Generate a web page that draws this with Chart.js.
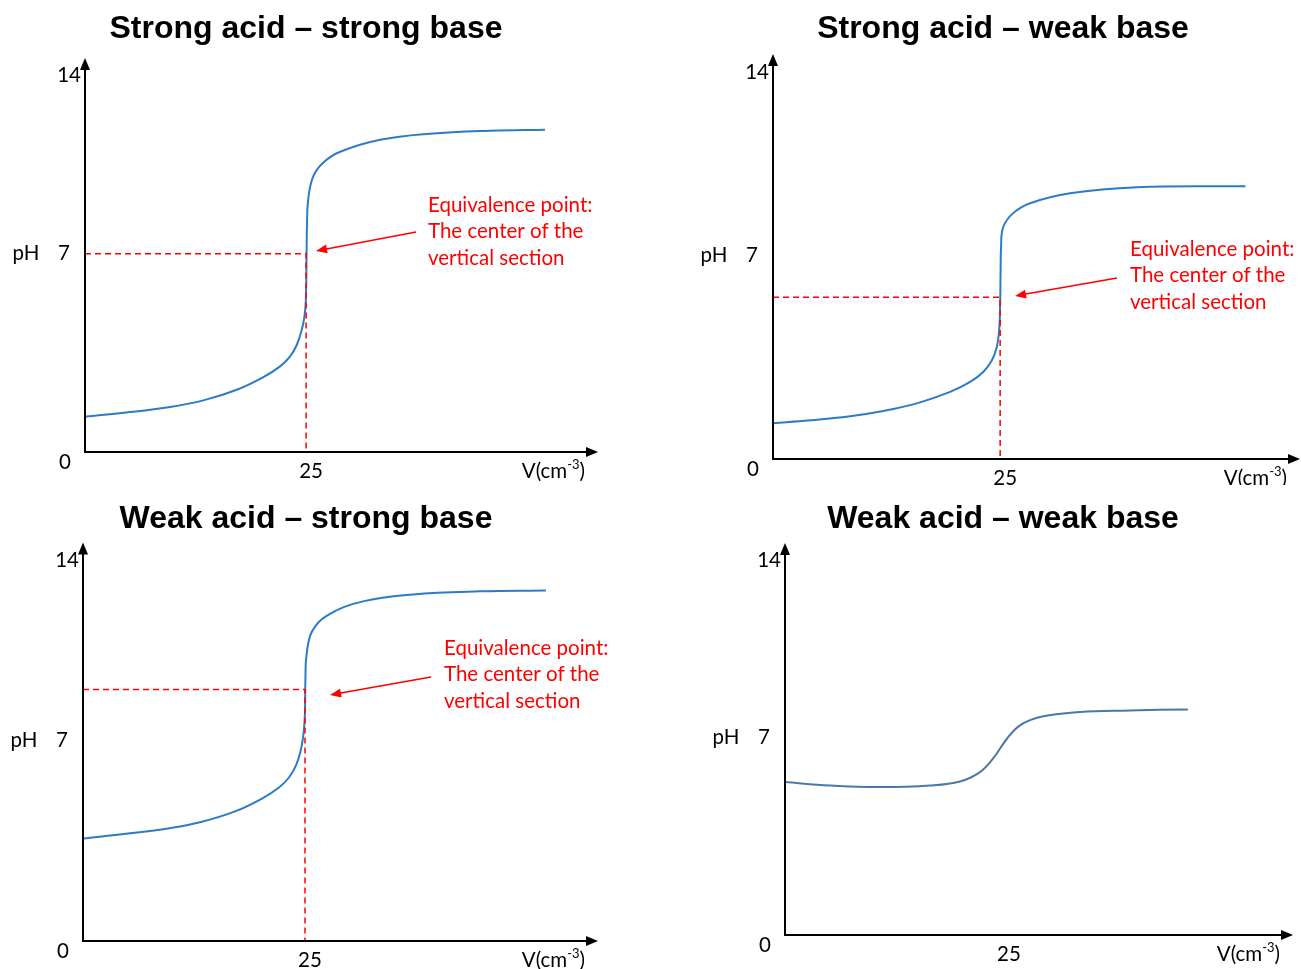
<!DOCTYPE html>
<html>
<head>
<meta charset="utf-8">
<script src="https://cdn.jsdelivr.net/npm/chart.js@4/dist/chart.umd.min.js"></script>
<style>
  html, body { margin: 0; padding: 0; background: #fff; }
  #wrap { position: relative; width: 1301px; height: 969px; overflow: hidden; }
  canvas { position: absolute; }
</style>
</head>
<body>
<div id="wrap">
  <canvas id="c1" width="650" height="485" style="left:0;top:0"></canvas>
  <canvas id="c2" width="651" height="485" style="left:650px;top:0"></canvas>
  <canvas id="c3" width="650" height="484" style="left:0;top:485px"></canvas>
  <canvas id="c4" width="651" height="484" style="left:650px;top:485px"></canvas>
</div>
<script>
// Chart text
const titles = ['Strong acid – strong base', 'Strong acid – weak base', 'Weak acid – strong base', 'Weak acid – weak base'];
const yTickLabels = ['0', '7', '14'];
const xTickLabels = ['25'];
const yAxisLabel = 'pH';
const xAxisLabel = ['V(cm', '-3', ')'];
const noteLines = ['Equivalence point:', 'The center of the', 'vertical section'];

// Titration curves: volume of titrant (cm3) and pH
const volSaSb = [0, 5.1, 9.62, 13.38, 17.16, 20.17, 22.06, 23.19, 23.95, 24.51, 24.81, 24.97, 25.05, 25.1, 25.23, 25.79, 26.92, 28.85, 33.37, 39.0, 45.8, 52.0];
const phSaSb  = [0.59, 0.77, 0.97, 1.23, 1.65, 2.15, 2.57, 2.96, 3.42, 4.01, 4.53, 5.19, 7.0, 8.14, 9.12, 10.03, 10.58, 11.01, 11.48, 11.72, 11.84, 11.88];

const volSaWb = [0, 4.07, 8.48, 12.15, 15.83, 19.49, 21.7, 23.16, 24.09, 24.63, 24.89, 25.0, 25.05, 25.1, 25.33, 26.43, 28.3, 32.7, 40.1, 52.0];
const phSaWb  = [0.57, 0.68, 0.84, 1.04, 1.33, 1.77, 2.15, 2.54, 2.98, 3.49, 4.13, 5.16, 6.43, 7.31, 8.07, 8.61, 8.99, 9.37, 9.60, 9.64];

const volWaSb = [0, 5.07, 9.57, 13.29, 17.12, 20.16, 22.07, 23.2, 23.99, 24.49, 24.8, 24.94, 25.0, 25.05, 25.17, 25.79, 27.48, 31.53, 37.16, 44.71, 52.14];
const phWaSb  = [3.19, 3.38, 3.58, 3.83, 4.24, 4.74, 5.17, 5.56, 6.03, 6.57, 7.16, 7.70, 8.13, 9.41, 10.31, 11.24, 11.86, 12.41, 12.68, 12.80, 12.83];

const volWaWb = [0, 5.14, 10.84, 16.55, 19.98, 22.26, 23.74, 25.34, 26.83, 29.11, 33.68, 39.38, 46.0];
const phWaWb  = [5.25, 5.11, 5.05, 5.11, 5.27, 5.64, 6.17, 6.96, 7.49, 7.82, 8.02, 8.08, 8.12];

// Equivalence point of each panel (none marked for weak/weak)
const eqVolume = [25, 25, 25, null];
const eqPH = [7, 5.39, 8.98, null];

const curves = [[volSaSb, phSaSb], [volSaWb, phSaWb], [volWaSb, phWaSb], [volWaWb, phWaWb]];

// layout of each canvas (canvas pixel coords)
const panels = [
  { id: 'c1', pad: { left: 85, top: 58, right: 52, bottom: 33 }, titleX: 306, titleY: 29,
    note: { x: 428, y: 205, tail: [416, 232], head: [316, 251] }, color: '#2C7BC6' },
  { id: 'c2', pad: { left: 123, top: 54, right: 1, bottom: 26 }, titleX: 353, titleY: 29,
    note: { x: 480, y: 249, tail: [467, 278], head: [365, 296] }, color: '#2C7BC6' },
  { id: 'c3', pad: { left: 83, top: 57.5, right: 52, bottom: 28 }, titleX: 306, titleY: 34,
    note: { x: 444, y: 163, tail: [431, 192], head: [330, 210] }, color: '#2C7BC6' },
  { id: 'c4', pad: { left: 135, top: 58, right: 8, bottom: 34 }, titleX: 353, titleY: 34,
    note: null, color: '#4A78A8' }
];

const Y_MIN = -0.8, Y_MAX = 14.7, X_MAX = 58;
const RED = '#FF0000';
const LABEL_FONT = '20.5px Lato, "Open Sans", sans-serif';
const SUP_FONT = '13px Lato, "Open Sans", sans-serif';

function arrowHead(ctx, x, y, angle, len, half) {
  ctx.save();
  ctx.translate(x, y);
  ctx.rotate(angle);
  ctx.beginPath();
  ctx.moveTo(0, 0);
  ctx.lineTo(-len, -half);
  ctx.lineTo(-len, half);
  ctx.closePath();
  ctx.fill();
  ctx.restore();
}

function makeDecor(i) {
  const p = panels[i];
  return {
    id: 'decor' + i,
    afterDraw(chart) {
      const ctx = chart.ctx;
      const a = chart.chartArea;
      const xs = chart.scales.x, ys = chart.scales.y;
      ctx.save();

      // title
      ctx.fillStyle = '#000';
      ctx.font = 'bold 32px "Liberation Sans", Arial, sans-serif';
      ctx.textAlign = 'center';
      ctx.textBaseline = 'middle';
      ctx.fillText(titles[i], p.titleX, p.titleY);

      // axes with arrows
      ctx.strokeStyle = '#000';
      ctx.lineWidth = 2;
      ctx.beginPath();
      ctx.moveTo(a.left, a.top + 8);
      ctx.lineTo(a.left, a.bottom);
      ctx.lineTo(a.right - 8, a.bottom);
      ctx.stroke();
      ctx.fillStyle = '#000';
      arrowHead(ctx, a.left, a.top, -Math.PI / 2, 12, 5);
      arrowHead(ctx, a.right, a.bottom, 0, 12, 5);

      // tick labels
      ctx.font = LABEL_FONT;
      ctx.textBaseline = 'middle';
      ctx.textAlign = 'center';
      ctx.fillText(yTickLabels[0], a.left - 20, a.bottom + 10);
      ctx.textAlign = 'right';
      ctx.fillText(yTickLabels[1], a.left - 15, ys.getPixelForValue(+yTickLabels[1]));
      ctx.fillText(yTickLabels[2], a.left - 4, ys.getPixelForValue(+yTickLabels[2]));
      ctx.textAlign = 'center';
      ctx.fillText(yAxisLabel, a.left - 59, ys.getPixelForValue(+yTickLabels[1]));
      ctx.fillText(xTickLabels[0], xs.getPixelForValue(+xTickLabels[0]) + 5, a.bottom + 19);

      // V(cm-3) with superscript
      ctx.font = LABEL_FONT; const w0 = ctx.measureText(xAxisLabel[0]).width;
      ctx.font = SUP_FONT; const w1 = ctx.measureText(xAxisLabel[1]).width;
      ctx.font = LABEL_FONT; const w2 = ctx.measureText(xAxisLabel[2]).width;
      let vx = a.right - 13 - (w0 + w1 + w2);
      const vy = a.bottom + 19;
      ctx.textAlign = 'left';
      ctx.fillText(xAxisLabel[0], vx, vy); vx += w0;
      ctx.font = SUP_FONT; ctx.fillText(xAxisLabel[1], vx, vy - 6); vx += w1;
      ctx.font = LABEL_FONT; ctx.fillText(xAxisLabel[2], vx, vy);

      // equivalence note
      if (p.note) {
        ctx.fillStyle = RED;
        ctx.strokeStyle = RED;
        ctx.font = LABEL_FONT;
        ctx.textAlign = 'left';
        noteLines.forEach((t, k) => ctx.fillText(t, p.note.x, p.note.y + k * 26.5));
        const [tx, ty] = p.note.tail, [hx, hy] = p.note.head;
        const ang = Math.atan2(hy - ty, hx - tx);
        ctx.lineWidth = 1.5;
        ctx.beginPath();
        ctx.moveTo(tx, ty);
        ctx.lineTo(hx - 8 * Math.cos(ang), hy - 8 * Math.sin(ang));
        ctx.stroke();
        arrowHead(ctx, hx, hy, ang, 11, 4.5);
      }
      ctx.restore();
    }
  };
}

function makeChart(i) {
  const p = panels[i];
  const [vols, phs] = curves[i];
  const datasets = [];
  if (eqVolume[i] !== null) {
    datasets.push({
      data: [{ x: 0, y: eqPH[i] }, { x: eqVolume[i], y: eqPH[i] }, { x: eqVolume[i], y: Y_MIN }],
      borderColor: RED,
      borderWidth: 1.5,
      borderDash: [6, 4],
      pointRadius: 0,
      tension: 0
    });
  }
  datasets.push({
    data: vols.map((v, k) => ({ x: v, y: phs[k] })),
    borderColor: p.color,
    borderWidth: 2,
    pointRadius: 0,
    tension: 0.4
  });

  return new Chart(document.getElementById(p.id), {
    type: 'line',
    data: { datasets: datasets },
    options: {
      responsive: false,
      animation: false,
      layout: { padding: p.pad },
      plugins: { legend: { display: false }, tooltip: { enabled: false } },
      scales: {
        x: { type: 'linear', min: 0, max: X_MAX, display: false },
        y: { type: 'linear', min: Y_MIN, max: Y_MAX, display: false }
      }
    },
    plugins: [makeDecor(i)]
  });
}

panels.forEach((p, i) => makeChart(i));
</script>
</body>
</html>
